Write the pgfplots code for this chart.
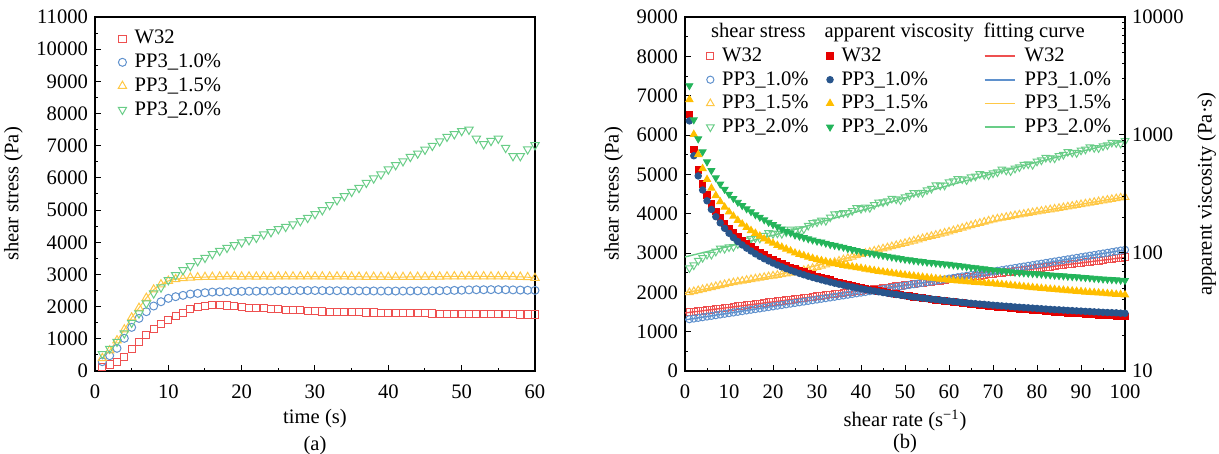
\documentclass[border=0pt]{standalone}
\usepackage{fontspec}
\setmainfont{Liberation Serif}
\usepackage{pgfplots}
\usepackage{pgfplotstable}
\pgfplotsset{compat=1.18}

\definecolor{cWo}{RGB}{238,80,80}
\definecolor{cWf}{RGB}{230,0,0}
\definecolor{cBo}{RGB}{95,145,205}
\definecolor{cBf}{RGB}{40,85,140}
\definecolor{cYo}{RGB}{255,200,70}
\definecolor{cYf}{RGB}{255,190,0}
\definecolor{cGo}{RGB}{105,205,135}
\definecolor{cGf}{RGB}{35,180,90}

% (a) shear stress vs time
\pgfplotstableread{
t W P10 P15 P20
1 120 290 400 530
2 205 476 640 694
3 290 704 950 911
4 445 1015 1290 1170
5 673 1356 1660 1501
6 911 1635 1960 1791
7 1128 1843 2270 2101
8 1304 2019 2530 2412
9 1460 2153 2690 2598
10 1594 2257 2800 2826
11 1708 2309 2850 2981
12 1811 2350 2880 3137
13 1915 2391 2900 3261
14 1977 2412 2910 3416
15 2019 2433 2920 3520
16 2040 2453 2925 3634
17 2045 2460 2930 3737
18 2035 2465 2935 3830
19 2010 2470 2940 3913
20 1985 2475 2930 3996
21 1967 2478 2935 4068
22 1955 2480 2930 4141
23 1946 2485 2935 4245
24 1936 2488 2930 4317
25 1925 2495 2935 4410
26 1905 2495 2935 4480
27 1895 2497 2935 4560
28 1885 2500 2935 4660
29 1875 2500 2935 4760
30 1860 2500 2935 4880
31 1850 2498 2935 5000
32 1845 2495 2930 5160
33 1840 2495 2935 5310
34 1835 2493 2935 5435
35 1830 2490 2930 5570
36 1825 2490 2930 5690
37 1820 2488 2925 5850
38 1815 2487 2925 5985
39 1810 2485 2925 6110
40 1805 2485 2920 6265
41 1800 2485 2920 6400
42 1800 2485 2920 6520
43 1795 2487 2925 6655
44 1790 2490 2925 6760
45 1790 2490 2925 6880
46 1785 2492 2930 7000
47 1780 2495 2930 7140
48 1780 2500 2935 7280
49 1775 2505 2940 7360
50 1775 2510 2940 7460
51 1770 2520 2940 7500
52 1770 2525 2940 7220
53 1765 2525 2940 7050
54 1765 2528 2935 7150
55 1760 2528 2935 7220
56 1760 2525 2935 6935
57 1760 2520 2930 6680
58 1755 2515 2925 6680
59 1755 2510 2915 6890
60 1755 2505 2890 7020
}\timedata

% (b) shear stress vs shear rate
\pgfplotstableread{
r W P10 P15 P20
1 1490 1317 1998 2619
2 1500 1334 2024 2690
3 1520 1351 2049 2810
4 1530 1368 2075 2880
5 1545 1385 2100 2960
6 1560 1402 2126 2960
7 1575 1419 2152 3040
8 1590 1437 2178 3120
9 1600 1454 2204 3110
10 1615 1471 2230 3150
11 1630 1488 2250 3160
12 1645 1505 2270 3230
13 1660 1522 2290 3320
14 1675 1540 2310 3320
15 1690 1557 2330 3359
16 1700 1574 2348 3380
17 1715 1591 2366 3370
18 1730 1609 2384 3440
19 1745 1626 2402 3510
20 1760 1643 2420 3487
21 1775 1661 2438 3500
22 1785 1678 2456 3490
23 1800 1695 2473 3530
24 1815 1713 2491 3605
25 1830 1730 2509 3560
26 1845 1747 2535 3610
27 1860 1765 2561 3610
28 1870 1782 2588 3700
29 1885 1800 2614 3770
30 1900 1817 2640 3784
31 1915 1835 2672 3830
32 1930 1852 2704 3820
33 1945 1870 2736 3910
34 1955 1887 2768 3990
35 1970 1905 2800 3997
36 1985 1922 2834 4020
37 2000 1940 2868 4020
38 2015 1958 2902 4075
39 2030 1975 2936 4150
40 2040 1993 2970 4125
41 2055 2010 2998 4160
42 2070 2028 3026 4150
43 2085 2046 3054 4225
44 2100 2063 3082 4290
45 2115 2081 3110 4294
46 2125 2099 3138 4320
47 2140 2117 3166 4385
48 2155 2134 3194 4370
49 2170 2152 3222 4345
50 2185 2170 3250 4422
51 2200 2188 3280 4460
52 2210 2206 3310 4530
53 2225 2224 3340 4530
54 2240 2241 3370 4535
55 2255 2259 3400 4600
56 2270 2277 3428 4640
57 2285 2295 3456 4730
58 2295 2313 3484 4720
59 2310 2331 3512 4720
60 2325 2349 3540 4804
61 2340 2367 3572 4830
62 2355 2385 3604 4885
63 2370 2403 3636 4880
64 2380 2421 3668 4855
65 2395 2439 3700 4930
66 2410 2457 3730 4950
67 2425 2475 3760 5010
68 2440 2493 3790 4990
69 2455 2511 3820 4980
70 2465 2529 3850 5030
71 2480 2547 3871 5055
72 2495 2565 3892 5130
73 2510 2584 3912 5100
74 2525 2602 3933 5085
75 2540 2620 3954 5150
76 2550 2638 3973 5185
77 2565 2656 3992 5250
78 2580 2675 4012 5260
79 2595 2693 4031 5245
80 2610 2711 4050 5330
81 2625 2729 4068 5360
82 2635 2748 4086 5425
83 2650 2766 4104 5415
84 2665 2784 4122 5410
85 2680 2803 4140 5470
86 2695 2821 4159 5500
87 2710 2839 4178 5575
88 2720 2858 4197 5555
89 2735 2876 4216 5545
90 2750 2895 4235 5612
91 2765 2913 4254 5635
92 2780 2932 4273 5695
93 2795 2950 4292 5675
94 2805 2969 4311 5670
95 2820 2987 4330 5720
96 2835 3006 4348 5745
97 2850 3024 4367 5810
98 2865 3043 4385 5800
99 2880 3062 4404 5785
100 2890 3080 4422 5850
}\stressdata

% (b) apparent viscosity vs shear rate
\pgfplotstableread{
r W P10 P15 P20
1 1490 1317 1998 2619
2 750 667 1012 1345
3 507 450 683 927
4 383 342 519 720
5 309 277 420 592
6 260 234 354 500
7 225 203 307 434
8 199 180 272 384
9 178 162 245 346
10 162 147 223 315
11 148 135 205 290
12 137 125 189 269
13 128 117 176 252
14 120 110 165 237
15 113 104 155 224
16 106 98.4 147 211
17 101 93.6 139 201
18 96.1 89.4 132 191
19 91.8 85.6 126 182
20 88.0 82.2 121 174
21 84.5 79.1 116 167
22 81.1 76.3 112 160
23 78.3 73.7 108 153
24 75.6 71.4 104 148
25 73.2 69.2 100 142
26 71.0 67.2 97.5 139
27 68.9 65.4 94.9 135
28 66.8 63.6 92.4 132
29 65.0 62.1 90.1 129
30 63.3 60.6 88.0 126
31 61.8 59.2 86.2 124
32 60.3 57.9 84.5 121
33 58.9 56.7 82.9 118
34 57.5 55.5 81.4 116
35 56.3 54.4 80.0 114
36 55.1 53.4 78.7 112
37 54.1 52.4 77.5 109
38 53.0 51.5 76.4 107
39 52.1 50.6 75.3 105
40 51.0 49.8 74.3 103
41 50.1 49.0 73.1 101
42 49.3 48.3 72.0 99.8
43 48.5 47.6 71.0 98.3
44 47.7 46.9 70.0 96.8
45 47.0 46.2 69.1 95.4
46 46.2 45.6 68.2 93.9
47 45.5 45.0 67.4 92.4
48 44.9 44.5 66.5 91.0
49 44.3 43.9 65.8 89.7
50 43.7 43.4 65.0 88.4
51 43.1 42.9 64.3 87.5
52 42.5 42.4 63.7 86.3
53 42.0 42.0 63.0 85.5
54 41.5 41.5 62.4 84.5
55 41.0 41.1 61.8 83.6
56 40.5 40.7 61.2 82.9
57 40.1 40.3 60.6 82.1
58 39.6 39.9 60.1 81.4
59 39.2 39.5 59.5 80.7
60 38.8 39.2 59.0 80.1
61 38.4 38.8 58.6 79.2
62 38.0 38.5 58.1 78.3
63 37.6 38.1 57.7 77.5
64 37.2 37.8 57.3 76.6
65 36.8 37.5 56.9 75.8
66 36.5 37.2 56.5 75.0
67 36.2 36.9 56.1 74.2
68 35.9 36.7 55.7 73.4
69 35.6 36.4 55.4 72.6
70 35.2 36.1 55.0 71.9
71 34.9 35.9 54.5 71.2
72 34.7 35.6 54.1 70.6
73 34.4 35.4 53.6 69.9
74 34.1 35.2 53.2 69.3
75 33.9 34.9 52.7 68.7
76 33.6 34.7 52.3 68.2
77 33.3 34.5 51.8 67.8
78 33.1 34.3 51.4 67.4
79 32.8 34.1 51.0 67.0
80 32.6 33.9 50.6 66.6
81 32.4 33.7 50.2 66.2
82 32.1 33.5 49.8 65.7
83 31.9 33.3 49.4 65.2
84 31.7 33.1 49.1 64.8
85 31.5 33.0 48.7 64.4
86 31.3 32.8 48.4 64.0
87 31.1 32.6 48.0 63.5
88 30.9 32.5 47.7 63.1
89 30.7 32.3 47.4 62.8
90 30.6 32.2 47.1 62.4
91 30.4 32.0 46.7 61.9
92 30.2 31.9 46.4 61.5
93 30.1 31.7 46.2 61.0
94 29.8 31.6 45.9 60.6
95 29.7 31.4 45.6 60.2
96 29.5 31.3 45.3 59.8
97 29.4 31.2 45.0 59.5
98 29.2 31.1 44.7 59.2
99 29.1 30.9 44.5 58.8
100 28.9 30.8 44.2 58.5
}\viscdata

\pgfplotsset{
  panel/.style={
    scale only axis, width=220pt, height=177pt,
    tick align=inside, major tick length=3pt, minor tick length=1.7pt,
    axis line style={line width=0.6pt},
    every tick/.style={black, line width=0.5pt},
    xticklabel style={yshift=-3.5pt},
    xlabel style={align=center, yshift=1.5pt},
    /pgf/number format/assume math mode=true,
    /pgf/number format/1000 sep={},
    scaled ticks=false,
    legend cell align=left,
    legend style={draw=none, fill=none, inner sep=0pt, row sep=0.5pt,
      nodes={inner sep=1.5pt},
      /tikz/column 1/.style={column sep=2.5pt},
      /tikz/column 2/.style={column sep=7.5pt},
      /tikz/column 3/.style={column sep=2.5pt},
      /tikz/column 4/.style={column sep=3.5pt},
      /tikz/column 5/.style={column sep=3pt}},
  },
  % marker-only legend image, no extra room round the mark
  om/.style={only marks, mark size=2pt, mark options={line width=0.5pt},
    legend image code/.code={\draw[##1] plot coordinates {(0pt,0pt)};}},
  ln/.style={line width=0.7pt,
    legend image code/.code={\draw[##1, line width=0.9pt] (0pt,0pt) -- (15pt,0pt);}},
  dn/.style={mark=triangle, mark options={rotate=180, line width=0.5pt}},
}

\begin{document}
\begin{tikzpicture}[font=\fontsize{10.3}{12.4}\selectfont]
\useasboundingbox (-47.5pt,-41.5pt) rectangle (562pt,185.5pt);

% ---------- (a) ----------
\begin{axis}[panel, at={(0pt,0pt)}, anchor=south west,
  xmin=0, xmax=60, ymin=0, ymax=11000,
  xtick={0,10,...,60}, ytick={0,1000,...,11000},
  minor x tick num=1, minor y tick num=1,
  xtick pos=bottom, ytick pos=left,
  xlabel={time (s)\\[1pt](a)},
  ylabel={shear stress (Pa)},
  legend style={at={(0.052,0.972)}, anchor=north west}]
\addplot[cYo, line width=0.5pt, forget plot] table[x=t,y=P15]{\timedata};
\addplot[om, mark=square, mark size=1.8pt, cWo] table[x=t,y=W]{\timedata};
\addlegendentry{W32}
\addplot[om, mark=o, cBo] table[x=t,y=P10]{\timedata};
\addlegendentry{PP3\_1.0\%}
\addplot[om, mark=triangle, mark size=2.4pt, cYo] table[x=t,y=P15]{\timedata};
\addlegendentry{PP3\_1.5\%}
\addplot[om, dn, mark size=2.4pt, cGo] table[x=t,y=P20]{\timedata};
\addlegendentry{PP3\_2.0\%}
\end{axis}

% ---------- (b) shear stress ----------
\begin{axis}[panel, at={(295pt,0pt)}, anchor=south west,
  xmin=0, xmax=100, ymin=0, ymax=9000,
  xtick={0,10,...,100}, ytick={0,1000,...,9000},
  minor x tick num=1, minor y tick num=1,
  xtick pos=bottom, ytick pos=left,
  xlabel={shear rate (s\textsuperscript{−1})\\[-1.5pt](b)},
  ylabel={shear stress (Pa)}]
\addplot[ln, color=cWo] coordinates {(0,1475) (100,2890)};
\addplot[ln, color=cBo, smooth] coordinates {(0,1300) (25,1730) (50,2170) (75,2620) (100,3080)};
\addplot[ln, color=cYo, smooth] coordinates {(0,1990) (20,2420) (40,2960) (60,3530) (80,4040) (100,4425)};
\addplot[ln, color=cGo, smooth] coordinates {(0,2900) (20,3450) (40,4080) (60,4720) (80,5310) (100,5850)};
\addplot[om, mark=square, mark size=1.7pt, cWo] table[x=r,y=W]{\stressdata};
\addplot[om, mark=o, mark size=1.8pt, cBo] table[x=r,y=P10]{\stressdata};
\addplot[om, mark=triangle, mark size=2.2pt, cYo] table[x=r,y=P15]{\stressdata};
\addplot[om, dn, mark size=2.2pt, cGo] table[x=r,y=P20]{\stressdata};
\end{axis}

% ---------- (b) apparent viscosity ----------
\begin{axis}[panel, at={(295pt,0pt)}, anchor=south west,
  xmin=0, xmax=100, ymode=log, ymin=10, ymax=10000,
  axis y line*=right, axis x line=none,
  ytick={10,100,1000,10000}, yticklabels={10,100,1000,10000},
  minor ytick={20,30,40,50,60,70,80,90,200,300,400,500,600,700,800,900,2000,3000,4000,5000,6000,7000,8000,9000},
  ylabel={apparent viscosity (Pa·s)}, ylabel near ticks, yticklabel pos=right,
  legend columns=3,
  legend style={at={(0.048,0.992)}, anchor=north west}]
\addplot[om, mark=square*, mark size=1.6pt, cWf, forget plot] table[x=r,y=W]{\viscdata};
\addplot[om, mark=*, mark size=1.6pt, cBf, forget plot] table[x=r,y=P10]{\viscdata};
\addplot[om, mark=triangle*, mark size=2pt, cYf, forget plot] table[x=r,y=P15]{\viscdata};
\addplot[om, mark=triangle*, mark size=2pt, mark options={rotate=180}, cGf, forget plot] table[x=r,y=P20]{\viscdata};

\addlegendimage{empty legend}\addlegendentry{\hspace{-5.5pt}shear stress}
\addlegendimage{empty legend}\addlegendentry{\hspace{-8.5pt}apparent viscosity}
\addlegendimage{empty legend}\addlegendentry{\hspace{-20.5pt}fitting curve}
\addlegendimage{om, mark=square, mark size=1.7pt, cWo}\addlegendentry{W32}
\addlegendimage{om, mark=square*, mark size=1.6pt, cWf}\addlegendentry{W32}
\addlegendimage{ln, color=cWo}\addlegendentry{W32}
\addlegendimage{om, mark=o, mark size=1.8pt, cBo}\addlegendentry{PP3\_1.0\%}
\addlegendimage{om, mark=*, mark size=1.6pt, cBf}\addlegendentry{PP3\_1.0\%}
\addlegendimage{ln, color=cBo}\addlegendentry{PP3\_1.0\%}
\addlegendimage{om, mark=triangle, mark size=2.2pt, cYo}\addlegendentry{PP3\_1.5\%}
\addlegendimage{om, mark=triangle*, mark size=2pt, cYf}\addlegendentry{PP3\_1.5\%}
\addlegendimage{ln, color=cYo}\addlegendentry{PP3\_1.5\%}
\addlegendimage{om, dn, mark size=2.2pt, cGo}\addlegendentry{PP3\_2.0\%}
\addlegendimage{om, mark=triangle*, mark size=2pt, mark options={rotate=180}, cGf}\addlegendentry{PP3\_2.0\%}
\addlegendimage{ln, color=cGo}\addlegendentry{PP3\_2.0\%}
\end{axis}
\end{tikzpicture}
\end{document}
